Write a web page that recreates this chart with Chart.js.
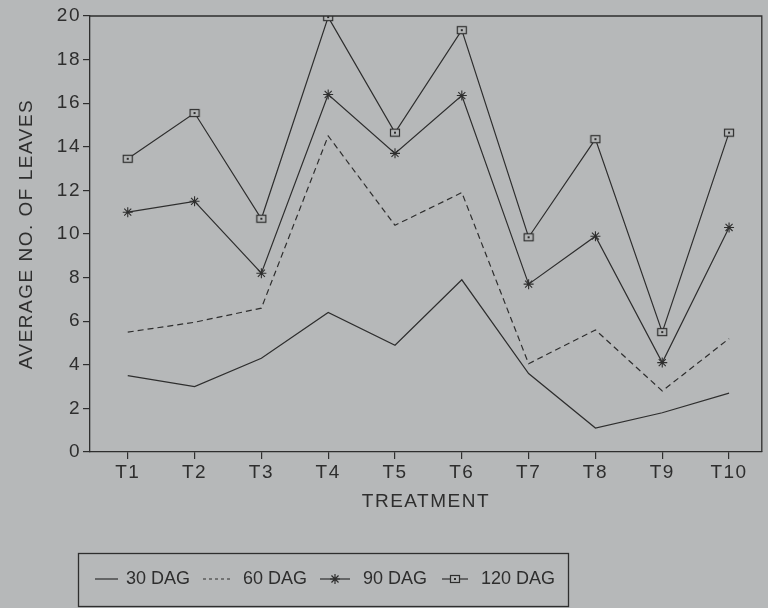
<!DOCTYPE html>
<html>
<head>
<meta charset="utf-8">
<script src="https://cdn.jsdelivr.net/npm/chart.js@4"></script>
<style>
  body { margin: 0; background: #b6b8b9; }
  #wrap { width: 768px; height: 608px; position: relative; }
</style>
</head>
<body>
<div id="wrap"><canvas id="leavesChart"></canvas></div>
<script>
// data
const treatments = ['T1', 'T2', 'T3', 'T4', 'T5', 'T6', 'T7', 'T8', 'T9', 'T10'];
const dag30 = [3.5, 3.0, 4.3, 6.4, 4.9, 7.9, 3.6, 1.1, 1.8, 2.7];
const dag60 = [5.5, 5.95, 6.6, 14.5, 10.4, 11.9, 4.05, 5.6, 2.8, 5.2];
const dag90 = [11.0, 11.5, 8.2, 16.4, 13.7, 16.35, 7.7, 9.9, 4.1, 10.3];
const dag120 = [13.45, 15.55, 10.7, 19.95, 14.65, 19.35, 9.85, 14.35, 5.5, 14.65];
const seriesNames = ['30 DAG', '60 DAG', '90 DAG', '120 DAG'];
const yTicks = [0, 2, 4, 6, 8, 10, 12, 14, 16, 18, 20];

const BG = '#b6b8b9';
const INK = '#2e2e2e';
const FONT = "'Liberation Sans', Arial, sans-serif";

// legend item layout (sample start, sample end, text start)
const legendSlots = [[95, 118, 126], [203, 230, 243], [320, 350, 363], [442, 468, 481]];

// hollow box marker used by 120 DAG
function boxMarker() {
    const c = document.createElement('canvas');
    c.width = 12; c.height = 10;
    const g = c.getContext('2d');
    g.fillStyle = BG;
    g.fillRect(1, 1, 10, 8);
    g.strokeStyle = INK;
    g.lineWidth = 1.2;
    g.strokeRect(1.5, 1.5, 9, 7);
    g.fillStyle = INK;
    g.fillRect(5, 4, 2, 2);
    return c;
}
const box = boxMarker();

const toPoints = arr => arr.map((v, i) => ({ x: i + 1, y: v }));

// frame on top and right + custom boxed legend
const framePlugin = {
    id: 'frame',
    beforeLayout(chart) { chart.ctx.letterSpacing = '1.5px'; },
    beforeDraw(chart) { chart.ctx.letterSpacing = '1.5px'; },
    afterDraw(chart) {
        const { ctx, chartArea: a } = chart;
        ctx.save();
        ctx.strokeStyle = INK;
        ctx.lineWidth = 1.3;
        ctx.beginPath();
        ctx.moveTo(a.left, a.top);
        ctx.lineTo(a.right, a.top);
        ctx.lineTo(a.right, a.bottom);
        ctx.stroke();

        // legend
        ctx.letterSpacing = '0px';
        ctx.strokeRect(78.5, 553.5, 490, 53);
        ctx.font = '18px ' + FONT;
        ctx.fillStyle = INK;
        ctx.textBaseline = 'middle';
        const y = 579;
        chart.data.datasets.forEach((ds, i) => {
            const [x0, x1, tx] = legendSlots[i];
            const mid = (x0 + x1) / 2;
            ctx.setLineDash(ds.borderDash ? [3, 3] : []);
            ctx.lineWidth = 1.2;
            ctx.beginPath();
            ctx.moveTo(x0, y);
            ctx.lineTo(x1, y);
            ctx.stroke();
            ctx.setLineDash([]);
            if (ds.pointStyle === 'star') {
                Chart.helpers.drawPoint(ctx, { pointStyle: 'star', radius: 5, borderWidth: 1 }, mid, y);
            } else if (ds.pointStyle === box) {
                ctx.drawImage(box, mid - 6, y - 5);
            }
            ctx.fillText(ds.label, tx, y);
        });
        ctx.restore();
    }
};

const common = {
    borderColor: INK,
    backgroundColor: BG,
    borderWidth: 1.2,
    tension: 0,
    pointRadius: 0
};

new Chart(document.getElementById('leavesChart'), {
    type: 'line',
    data: {
        datasets: [
            { ...common, label: seriesNames[0], data: toPoints(dag30) },
            { ...common, label: seriesNames[1], data: toPoints(dag60), borderDash: [6, 4] },
            { ...common, label: seriesNames[2], data: toPoints(dag90), pointStyle: 'star', pointRadius: 5, pointBorderWidth: 1.1 },
            { ...common, label: seriesNames[3], data: toPoints(dag120), pointStyle: box, pointRadius: 5 }
        ]
    },
    options: {
        responsive: true,
        maintainAspectRatio: false,
        animation: false,
        layout: { padding: { top: 16, right: 2, bottom: 90, left: 0 } },
        plugins: {
            legend: { display: false },
            tooltip: { enabled: false }
        },
        scales: {
            x: {
                type: 'linear',
                min: 0.435,
                max: 10.49,
                afterFit: s => { s.height = 66; },
                afterBuildTicks: s => { s.ticks = treatments.map((t, i) => ({ value: i + 1 })); },
                ticks: {
                    color: INK,
                    font: { family: FONT, size: 19 },
                    padding: 2,
                    maxRotation: 0,
                    callback: v => treatments[v - 1]
                },
                grid: { drawOnChartArea: false, tickLength: 7, color: INK, lineWidth: 1.2 },
                border: { color: INK, width: 1.3 },
                title: {
                    display: true,
                    text: 'TREATMENT',
                    color: INK,
                    font: { family: FONT, size: 19 },
                    padding: { top: 0, bottom: 5 }
                }
            },
            y: {
                min: 0,
                max: 20,
                afterFit: s => { s.width = 90; },
                afterBuildTicks: s => { s.ticks = yTicks.map(v => ({ value: v })); },
                ticks: {
                    color: INK,
                    font: { family: FONT, size: 19 },
                    padding: 2
                },
                grid: { drawOnChartArea: false, tickLength: 7, color: INK, lineWidth: 1.2 },
                border: { color: INK, width: 1.3 },
                title: {
                    display: true,
                    text: 'AVERAGE NO. OF LEAVES',
                    color: INK,
                    font: { family: FONT, size: 19 },
                    padding: { top: 15, bottom: 0 }
                }
            }
        }
    },
    plugins: [framePlugin]
});
</script>
</body>
</html>
